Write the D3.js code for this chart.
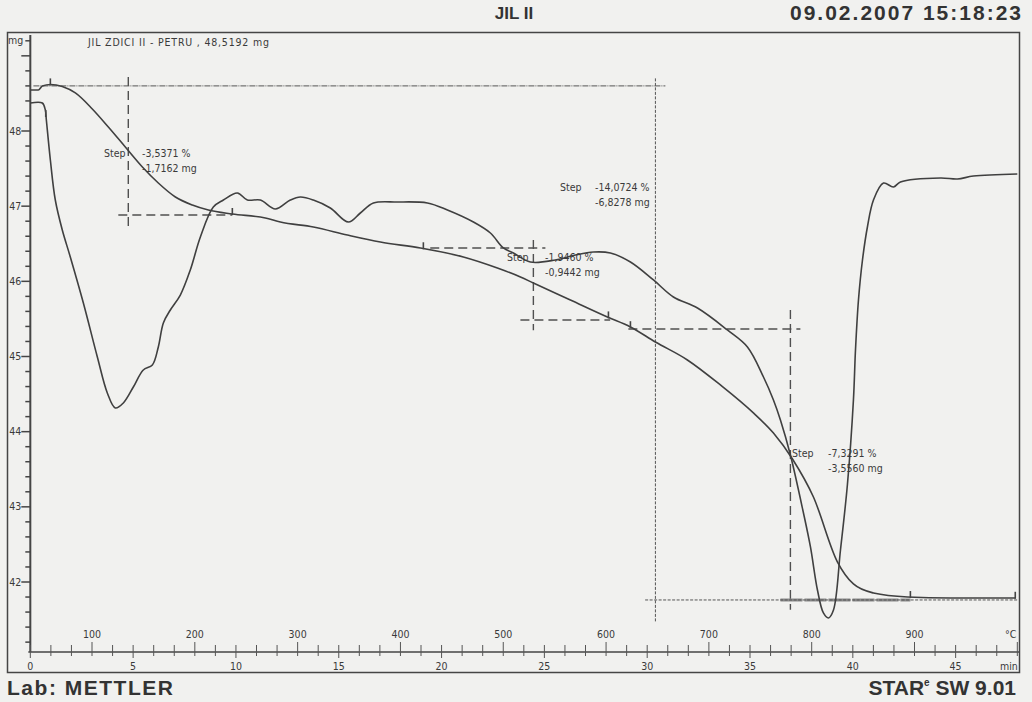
<!DOCTYPE html>
<html>
<head>
<meta charset="utf-8">
<script src="https://cdn.jsdelivr.net/npm/d3@7"></script>
<style>
  body { margin: 0; background: #f1f1ef; }
  svg { display: block; }
  .small { font-family: "DejaVu Sans Condensed", "Liberation Sans Narrow", sans-serif; font-size: 10.5px; fill: #3a3a3a; }
  .big { font-family: "Liberation Sans", Arial, sans-serif; font-weight: bold; fill: #333; }
</style>
</head>
<body>
<svg width="1032" height="702"></svg>
<script>
// TGA curve: temperature (°C), sample mass (mg)
var tgaTemp = [40, 47.8, 51.7, 59.5, 71.1, 83.8, 100.3, 115.9, 132.4, 149.0, 164.5, 181.1, 197.6, 213.2,
    236.5, 268.6, 283.2, 315.3, 348.4, 380.5, 419.4, 461.2, 494.3, 516.7, 529.3, 565.3, 601.3, 623.7,
    648.0, 679.1, 711.2, 743.3, 762.8, 781.3, 801.7, 825.1, 840.6, 860.1, 893.2, 935.0, 998.2];
var tgaMass = [48.545, 48.545, 48.599, 48.619, 48.592, 48.506, 48.293, 48.053, 47.787, 47.521, 47.308, 47.122, 47.016, 46.949,
    46.896, 46.843, 46.789, 46.723, 46.616, 46.523, 46.444, 46.324, 46.177, 46.058, 45.978, 45.752, 45.526, 45.393,
    45.193, 44.954, 44.621, 44.249, 43.982, 43.637, 43.131, 42.266, 41.974, 41.854, 41.801, 41.787, 41.787];

// DTA curve: no own axis, drawn in the mg frame
var dtaTemp = [40, 51.7, 54.6, 55.6, 59.5, 64.3, 71.1, 78.9, 91.6, 105.2, 114.9, 122.7, 130.5, 140.2, 149.9, 158.7,
    164.5, 169.4, 176.2, 185.9, 195.6, 205.4, 218.0, 227.8, 241.4, 251.1, 263.7, 278.3, 292.9, 302.7, 315.3,
    331.8, 349.4, 361.0, 373.7, 397.0, 426.2, 445.7, 471.0, 487.5, 500.1, 509.9, 526.4, 550.7, 570.2, 587.7,
    604.2, 623.7, 646.1, 665.5, 688.9, 718.0, 737.5, 753.1, 762.8, 769.6, 779.3, 792.0, 798.8, 805.6, 811.4,
    816.3, 821.2, 828.0, 834.8, 840.6, 842.6, 845.5, 849.4, 854.2, 860.1, 869.8, 879.5, 886.3, 925.3, 941.8,
    957.3, 1000];
var dtaSignal = [48.372, 48.372, 48.279, 48.146, 47.614, 47.082, 46.683, 46.324, 45.712, 44.994, 44.515, 44.315, 44.382, 44.594, 44.821, 44.887,
    45.127, 45.446, 45.619, 45.818, 46.151, 46.590, 46.989, 47.082, 47.175, 47.082, 47.082, 46.962, 47.082, 47.122, 47.082,
    46.976, 46.789, 46.909, 47.042, 47.055, 47.042, 46.949, 46.789, 46.643, 46.444, 46.377, 46.257, 46.284, 46.350, 46.390,
    46.377, 46.257, 46.018, 45.792, 45.645, 45.353, 45.127, 44.727, 44.422, 44.155, 43.690, 42.918, 42.466, 41.894, 41.588,
    41.522, 41.628, 42.426, 43.304, 44.422, 45.087, 45.752, 46.284, 46.723, 47.082, 47.308, 47.255, 47.322, 47.375, 47.361,
    47.401, 47.428];

// step evaluations
var stepPercent = ["-3,5371 %", "-1,9460 %", "-7,3291 %", "-14,0724 %"];
var stepMass = ["-1,7162 mg", "-0,9442 mg", "-3,5560 mg", "-6,8278 mg"];
var stepTemp = [135.3, 529.3, 779.3, 648.0];
var stepVertMg = [[48.72, 46.72], [46.55, 45.35], [45.62, 41.63], [48.70, 41.47]];
var stepTopMg = [null, 46.444, 45.366, 48.60];
var stepTopSpan = [null, [429, 541], [621.7, 789], [43, 657.7]];
var stepBotMg = [46.883, 45.486, 41.761, 41.761];
var stepBotSpan = [[125.6, 236.5], [516.7, 604], [769.6, 896], [638, 1001]];
var markTemp = [59.5, 236.5, 422.3, 602.3, 623.7, 896, 998, 55];
var markMg = [48.62, 46.896, 46.44, 45.52, 45.39, 41.80, 41.79, 48.2];

// axis ticks
var tempLabels = [100, 200, 300, 400, 500, 600, 700, 800, 900];
var timeLabels = [0, 5, 10, 15, 20, 25, 30, 35, 40, 45];
var massLabels = [42, 43, 44, 45, 46, 47, 48];

var svg = d3.select("svg");

// scales: temperature on x, time shares x (20 °C/min from 40 °C)
var x = d3.scaleLinear().domain([100, 900]).range([92, 914.5]);
var xt = d3.scaleLinear().domain([0, 45]).range([x(40), x(940)]);
var y = d3.scaleLinear().domain([48, 42]).range([131, 582]);

var axisY = 652, axisX = x(40);
var ink = "#454545";

// outer frame
svg.append("rect").attr("x", 7.5).attr("y", 32.5).attr("width", 1012).attr("height", 640)
    .attr("fill", "none").attr("stroke", ink).attr("stroke-width", 1.5);

// header and footer
svg.append("text").attr("class", "big").attr("x", 514).attr("y", 19).attr("font-size", 17)
    .attr("text-anchor", "middle").text("JIL II");
svg.append("text").attr("class", "big").attr("x", 790).attr("y", 20).attr("font-size", 21)
    .attr("textLength", 231).text("09.02.2007 15:18:23");
svg.append("text").attr("class", "big").attr("x", 7).attr("y", 695).attr("font-size", 21)
    .attr("textLength", 166).text("Lab: METTLER");
var star = svg.append("text").attr("class", "big").attr("x", 1016).attr("y", 695)
    .attr("font-size", 21).attr("text-anchor", "end");
star.append("tspan").text("STAR");
star.append("tspan").attr("font-size", 10).attr("dy", -9).text("e");
star.append("tspan").attr("dy", 9).text(" SW 9.01");

svg.append("text").attr("class", "small").attr("x", 88).attr("y", 46)
    .attr("textLength", 181).text("JIL ZDICI II - PETRU , 48,5192 mg");

// y axis
svg.append("line").attr("x1", axisX).attr("x2", axisX).attr("y1", 35).attr("y2", axisY)
    .attr("stroke", ink).attr("stroke-width", 2);
var mTicks = d3.range(41.2, 49.25, 0.2);
svg.selectAll(".mtick").data(mTicks).enter().append("line")
    .attr("x1", function(d) { return Math.abs(d - Math.round(d)) < 0.01 ? axisX - 9 : axisX - 5; })
    .attr("x2", axisX)
    .attr("y1", function(d) { return y(d); }).attr("y2", function(d) { return y(d); })
    .attr("stroke", ink).attr("stroke-width", 1.5);
svg.selectAll(".mlab").data(massLabels).enter().append("text")
    .attr("class", "small").attr("font-size", 9.5).attr("text-anchor", "end")
    .attr("x", axisX - 9).attr("y", function(d) { return y(d) + 3.5; })
    .text(function(d) { return d; });
svg.append("text").attr("class", "small").attr("font-size", 9.5).attr("text-anchor", "end")
    .attr("x", axisX - 7).attr("y", y(49.2) + 3.5).text("mg");

// bottom axes: temperature above the line, time below
svg.append("line").attr("x1", axisX - 2).attr("x2", 1019).attr("y1", axisY).attr("y2", axisY)
    .attr("stroke", ink).attr("stroke-width", 1.5);
svg.selectAll(".ttick").data(d3.range(40, 1001, 20)).enter().append("line")
    .attr("x1", function(d) { return x(d); }).attr("x2", function(d) { return x(d); })
    .attr("y1", function(d) { return d % 100 === 0 ? axisY - 10 : axisY - 7; }).attr("y2", axisY)
    .attr("stroke", "#555").attr("stroke-width", 1);
svg.selectAll(".tlab").data(tempLabels).enter().append("text")
    .attr("class", "small").attr("text-anchor", "middle")
    .attr("x", function(d) { return x(d); }).attr("y", axisY - 14)
    .text(function(d) { return d; });
svg.append("text").attr("class", "small").attr("x", 1005).attr("y", axisY - 14).text("°C");
svg.selectAll(".mintick").data(d3.range(0, 48.1, 1)).enter().append("line")
    .attr("x1", function(d) { return xt(d); }).attr("x2", function(d) { return xt(d); })
    .attr("y1", axisY).attr("y2", function(d) { return d % 5 === 0 ? axisY + 6 : axisY + 4; })
    .attr("stroke", "#555").attr("stroke-width", 1);
svg.selectAll(".minlab").data(timeLabels).enter().append("text")
    .attr("class", "small").attr("font-size", 9).attr("text-anchor", "middle")
    .attr("x", function(d) { return xt(d); }).attr("y", 670)
    .text(function(d) { return d; });
svg.append("text").attr("class", "small").attr("font-size", 9).attr("x", 1000).attr("y", 670).text("min");

// step evaluation lines
var dash = "9,5";
stepTemp.forEach(function(t, i) {
    var big = i === 3;
    var st = big ? "#555" : "#505050";
    var da = big ? "3,1.5" : dash;
    var sw = big ? 1 : 1.4;
    svg.append("line")
        .attr("x1", x(t)).attr("x2", x(t))
        .attr("y1", y(stepVertMg[i][0])).attr("y2", y(stepVertMg[i][1]))
        .attr("stroke", st).attr("stroke-width", sw).attr("stroke-dasharray", da);
    if (stepTopSpan[i]) {
        svg.append("line")
            .attr("x1", x(stepTopSpan[i][0])).attr("x2", x(stepTopSpan[i][1]))
            .attr("y1", y(stepTopMg[i])).attr("y2", y(stepTopMg[i]))
            .attr("stroke", st).attr("stroke-width", sw).attr("stroke-dasharray", big ? "6,1,1,1" : dash);
    }
    svg.append("line")
        .attr("x1", x(stepBotSpan[i][0])).attr("x2", x(stepBotSpan[i][1]))
        .attr("y1", y(stepBotMg[i])).attr("y2", y(stepBotMg[i]))
        .attr("stroke", i === 2 ? "#8a8a8a" : st)
        .attr("stroke-width", i === 2 ? 3 : sw)
        .attr("stroke-dasharray", i === 2 ? "22,2" : da);
});

// curves
var line = d3.line().curve(d3.curveMonotoneX);
svg.append("path")
    .attr("d", line(tgaTemp.map(function(t, i) { return [x(t), y(tgaMass[i])]; })))
    .attr("fill", "none").attr("stroke", "#404040").attr("stroke-width", 1.6);
svg.append("path")
    .attr("d", d3.line().curve(d3.curveCatmullRom)(dtaTemp.map(function(t, i) { return [x(t), y(dtaSignal[i])]; })))
    .attr("fill", "none").attr("stroke", "#404040").attr("stroke-width", 1.6);

// little evaluation markers
svg.selectAll(".mark").data(markTemp).enter().append("line")
    .attr("x1", function(d) { return x(d); }).attr("x2", function(d) { return x(d); })
    .attr("y1", function(d, i) { return y(markMg[i]) - 6; })
    .attr("y2", function(d, i) { return y(markMg[i]) + 1; })
    .attr("stroke", "#444").attr("stroke-width", 1.6);

// step labels (pixel layout of the text blocks)
var labelLayout = [
    {s: 104, v: 142, y: 157},
    {s: 507, v: 545, y: 261},
    {s: 792, v: 828, y: 457},
    {s: 560, v: 595, y: 191}
];
labelLayout.forEach(function(p, i) {
    svg.append("text").attr("class", "small").attr("x", p.s).attr("y", p.y).text("Step");
    svg.append("text").attr("class", "small").attr("x", p.v).attr("y", p.y).text(stepPercent[i]);
    svg.append("text").attr("class", "small").attr("x", p.v).attr("y", p.y + 15).text(stepMass[i]);
});
</script>
</body>
</html>
